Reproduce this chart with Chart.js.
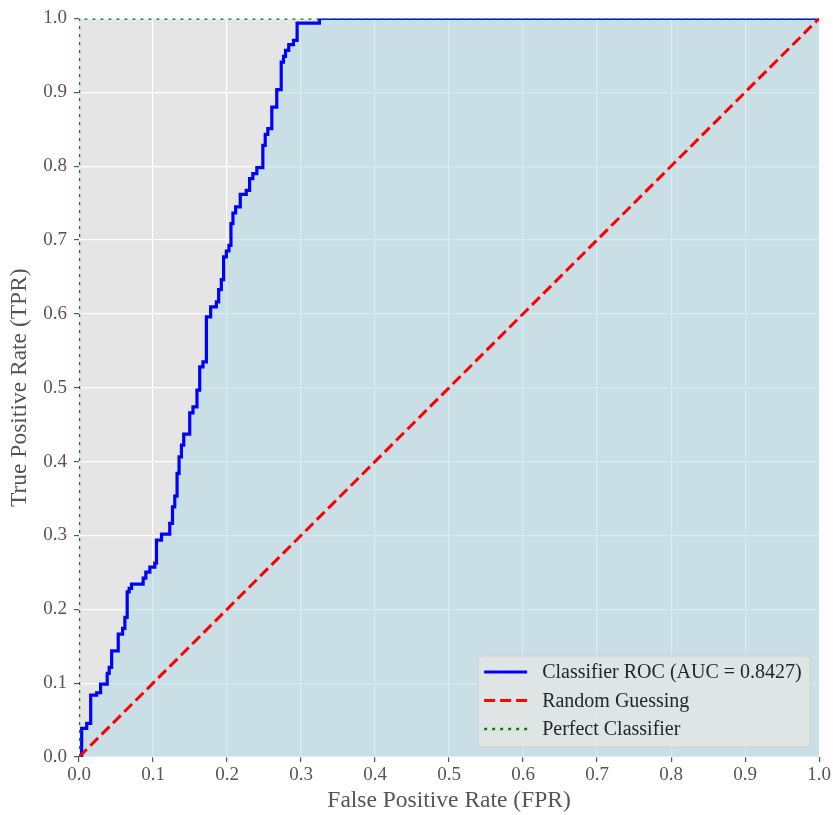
<!DOCTYPE html>
<html>
<head>
<meta charset="utf-8">
<script src="https://cdn.jsdelivr.net/npm/chart.js@4.4.1/dist/chart.umd.min.js"></script>
<style>
  html, body { margin: 0; padding: 0; background: #ffffff; }
  #wrap { width: 833px; height: 815px; }
</style>
</head>
<body>
<div id="wrap"><canvas id="rocChart" width="833" height="815"></canvas></div>
<script>
// Curva ROC (cantos dos degraus)
const rocFpr = [
    0, 0.0036, 0.0036, 0.0104, 0.0104, 0.0158, 0.0158, 0.0239, 0.0239, 0.0292,
    0.0292, 0.0381, 0.0381, 0.0408, 0.0408, 0.0441, 0.0441, 0.0530, 0.0530, 0.0589,
    0.0589, 0.0620, 0.0620, 0.0651, 0.0651, 0.0678, 0.0678, 0.0710, 0.0710, 0.0867,
    0.0867, 0.0903, 0.0903, 0.0957, 0.0957, 0.1024, 0.1024, 0.1047, 0.1047, 0.1115,
    0.1115, 0.1226, 0.1226, 0.1263, 0.1263, 0.1294, 0.1294, 0.1325, 0.1325, 0.1352,
    0.1352, 0.1384, 0.1384, 0.1415, 0.1415, 0.1496, 0.1496, 0.1540, 0.1540, 0.1594,
    0.1594, 0.1631, 0.1631, 0.1675, 0.1675, 0.1721, 0.1721, 0.1779, 0.1779, 0.1856,
    0.1856, 0.1887, 0.1887, 0.1923, 0.1923, 0.1954, 0.1954, 0.1991, 0.1991, 0.2026,
    0.2026, 0.2053, 0.2053, 0.2080, 0.2080, 0.2116, 0.2116, 0.2179, 0.2179, 0.2260,
    0.2260, 0.2305, 0.2305, 0.2349, 0.2349, 0.2403, 0.2403, 0.2484, 0.2484, 0.2516,
    0.2516, 0.2551, 0.2551, 0.2605, 0.2605, 0.2672, 0.2672, 0.2732, 0.2732, 0.2763,
    0.2763, 0.2790, 0.2790, 0.2834, 0.2834, 0.2898, 0.2898, 0.2947, 0.2947, 0.3248,
    0.3248, 1
];
const rocTpr = [
    0, 0, 0.0388, 0.0388, 0.0456, 0.0456, 0.0839, 0.0839, 0.0870, 0.0870,
    0.0988, 0.0988, 0.1133, 0.1133, 0.1214, 0.1214, 0.1438, 0.1438, 0.1664, 0.1664,
    0.1742, 0.1742, 0.1890, 0.1890, 0.2237, 0.2237, 0.2283, 0.2283, 0.2341, 0.2341,
    0.2422, 0.2422, 0.2503, 0.2503, 0.2571, 0.2571, 0.2625, 0.2625, 0.2936, 0.2936,
    0.3018, 0.3018, 0.3162, 0.3162, 0.3387, 0.3387, 0.3532, 0.3532, 0.3839, 0.3839,
    0.4064, 0.4064, 0.4222, 0.4222, 0.4371, 0.4371, 0.4659, 0.4659, 0.4740, 0.4740,
    0.4966, 0.4966, 0.5281, 0.5281, 0.5349, 0.5349, 0.5958, 0.5958, 0.6093, 0.6093,
    0.6161, 0.6161, 0.6329, 0.6329, 0.6464, 0.6464, 0.6770, 0.6770, 0.6851, 0.6851,
    0.6928, 0.6928, 0.7222, 0.7222, 0.7365, 0.7365, 0.7447, 0.7447, 0.7618, 0.7618,
    0.7672, 0.7672, 0.7831, 0.7831, 0.7899, 0.7899, 0.7980, 0.7980, 0.8281, 0.8281,
    0.8430, 0.8430, 0.8507, 0.8507, 0.8800, 0.8800, 0.9035, 0.9035, 0.9409, 0.9409,
    0.9486, 0.9486, 0.9567, 0.9567, 0.9644, 0.9644, 0.9702, 0.9702, 0.9936, 0.9936,
    1, 1
];
const randomFpr = [0, 1];
const randomTpr = [0, 1];
const perfectFpr = [0, 0, 1];
const perfectTpr = [0, 1, 1];
const aucValue = 0.8427;
const axisTicks = [0, 0.1, 0.2, 0.3, 0.4, 0.5, 0.6, 0.7, 0.8, 0.9, 1.0];

function toPoints(xs, ys) {
    return xs.map((x, i) => ({ x: x, y: ys[i] }));
}

const serif = "'Liberation Serif', 'DejaVu Serif', serif";

// Legenda desenhada dentro da área do gráfico (canto inferior direito)
const innerLegend = {
    id: 'innerLegend',
    afterDraw(chart) {
        const ctx = chart.ctx;
        const area = chart.chartArea;
        const boxW = 332, boxH = 91;
        const x0 = area.right - 9 - boxW;
        const y0 = area.bottom - 10 - boxH;
        ctx.save();
        ctx.beginPath();
        ctx.roundRect(x0, y0, boxW, boxH, 4);
        ctx.fillStyle = 'rgba(229, 229, 229, 0.8)';
        ctx.fill();
        ctx.strokeStyle = 'rgba(204, 204, 204, 0.8)';
        ctx.lineWidth = 1;
        ctx.stroke();

        const rows = [16, 44.5, 73];
        chart.data.datasets.forEach((ds, i) => {
            const y = y0 + rows[i];
            ctx.beginPath();
            ctx.setLineDash(ds.borderDash || []);
            ctx.strokeStyle = ds.borderColor;
            ctx.lineWidth = ds.borderWidth;
            ctx.moveTo(x0 + 6, y);
            ctx.lineTo(x0 + 49, y);
            ctx.stroke();
            ctx.setLineDash([]);
            ctx.fillStyle = '#262626';
            ctx.font = '20px ' + serif;
            ctx.textBaseline = 'middle';
            ctx.fillText(ds.label, x0 + 64, y + 1);
        });
        ctx.restore();
    }
};

const ctx = document.getElementById('rocChart').getContext('2d');

new Chart(ctx, {
    type: 'scatter',
    data: {
        datasets: [
            {
                label: 'Classifier ROC (AUC = ' + aucValue.toFixed(4) + ')',
                data: toPoints(rocFpr, rocTpr),
                showLine: true,
                borderColor: '#0000ff',
                borderWidth: 3.2,
                pointRadius: 0,
                fill: 'origin',
                backgroundColor: 'rgba(173, 216, 230, 0.5)',
                clip: 0,
                order: 3,
            },
            {
                label: 'Random Guessing',
                data: toPoints(randomFpr, randomTpr),
                showLine: true,
                borderColor: '#ff0000',
                borderWidth: 3,
                borderDash: [11, 5],
                pointRadius: 0,
                fill: false,
                clip: 0,
                order: 2,
            },
            {
                label: 'Perfect Classifier',
                data: toPoints(perfectFpr, perfectTpr),
                showLine: true,
                borderColor: '#008000',
                borderWidth: 2.5,
                borderDash: [3, 5],
                pointRadius: 0,
                fill: false,
                clip: 0,
                order: 1,
            }
        ]
    },
    options: {
        responsive: false,
        animation: false,
        layout: { padding: { top: 18, right: 12, left: 0, bottom: 0 } },
        plugins: {
            legend: { display: false },
            tooltip: { enabled: false }
        },
        scales: {
            x: {
                type: 'linear',
                min: 0,
                max: 1,
                afterBuildTicks: (scale) => { scale.ticks = axisTicks.map(v => ({ value: v })); },
                afterFit: (scale) => { scale.height = 58; },
                ticks: {
                    color: '#555555',
                    font: { size: 19, family: serif },
                    padding: 2,
                    maxRotation: 0,
                    callback: (v) => v.toFixed(1)
                },
                grid: { color: '#ffffff', lineWidth: 1.2, tickColor: '#555555', tickLength: 5 },
                border: { display: false },
                title: {
                    display: true,
                    text: 'False Positive Rate (FPR)',
                    color: '#555555',
                    font: { size: 23.5, family: serif },
                    padding: { top: 1, bottom: 0 }
                }
            },
            y: {
                type: 'linear',
                min: 0,
                max: 1,
                afterBuildTicks: (scale) => { scale.ticks = axisTicks.map(v => ({ value: v })); },
                afterFit: (scale) => { scale.width = 79; },
                ticks: {
                    color: '#555555',
                    font: { size: 19, family: serif },
                    padding: 7,
                    callback: (v) => v.toFixed(1)
                },
                grid: { color: '#ffffff', lineWidth: 1.2, tickColor: '#555555', tickLength: 5 },
                border: { display: false },
                title: {
                    display: true,
                    text: 'True Positive Rate (TPR)',
                    color: '#555555',
                    font: { size: 23.5, family: serif },
                    padding: { top: 6, bottom: 0 }
                }
            }
        }
    },
    plugins: [
        {
            id: 'plotBackground',
            beforeDraw(chart) {
                const a = chart.chartArea;
                chart.ctx.save();
                chart.ctx.fillStyle = '#e5e5e5';
                chart.ctx.fillRect(a.left, a.top, a.right - a.left, a.bottom - a.top);
                chart.ctx.restore();
            }
        },
        innerLegend
    ]
});
</script>
</body>
</html>
